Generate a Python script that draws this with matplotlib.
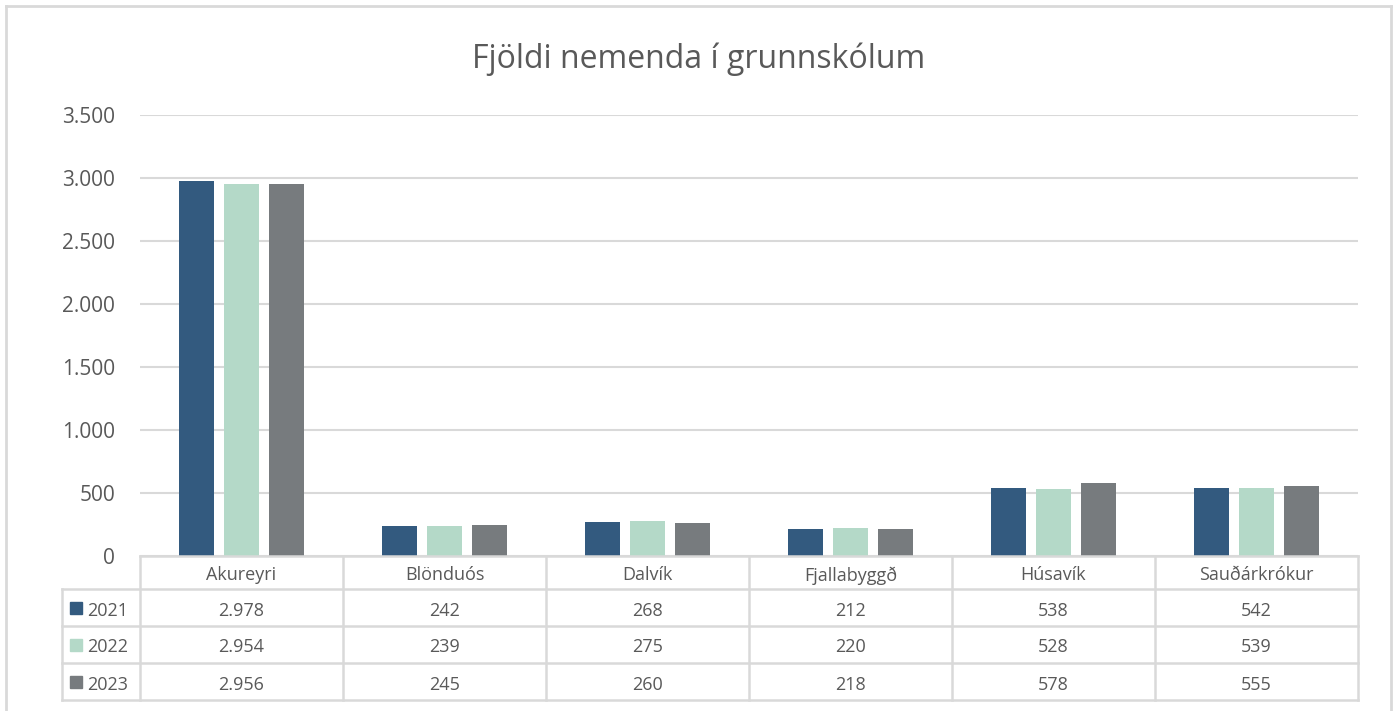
import matplotlib
matplotlib.use("Agg")
import matplotlib.pyplot as plt
import numpy as np
from matplotlib.lines import Line2D
from matplotlib.patches import Rectangle

places = ["Akureyri", "Blönduós", "Dalvík", "Fjallabyggð", "Húsavík", "Sauðárkrókur"]
years = ["2021", "2022", "2023"]
v2021 = [2978, 242, 268, 212, 538, 542]
v2022 = [2954, 239, 275, 220, 528, 539]
v2023 = [2956, 245, 260, 218, 578, 555]
yticks = [0, 500, 1000, 1500, 2000, 2500, 3000, 3500]

colors = ["#335A7F", "#B4D9C8", "#777B7E"]
grid_c = "#D9D9D9"
text_c = "#595959"

plt.rcParams["font.family"] = ["Open Sans", "DejaVu Sans"]

W, H = 1398, 711
fig = plt.figure(figsize=(W / 100, H / 100), dpi=100)


def fx(px):
    return px / W


def fy(py):
    return 1 - py / H


x0, x1 = 140, 1358
y_top, y_bot = 115, 556
ax = fig.add_axes([fx(x0), fy(y_bot), fx(x1) - fx(x0), fy(y_top) - fy(y_bot)])

n = len(places)
x = np.arange(n)
bw = 0.172
step = 0.222
series = [v2021, v2022, v2023]
for i, vals in enumerate(series):
    ax.bar(x + (i - 1) * step, vals, width=bw, color=colors[i], zorder=3)

ax.set_xlim(-0.5, n - 0.5)
ax.set_ylim(0, 3500)
ax.set_yticks(yticks)
ax.set_yticklabels([f"{t:,}".replace(",", ".") for t in yticks], fontsize=15, color=text_c)
for lab in ax.get_yticklabels():
    lab.set_y(lab.get_position()[1])
ax.tick_params(axis="y", length=0, pad=18)
ax.set_xticks([])
ax.grid(axis="y", color=grid_c, linewidth=1.5, zorder=0)
for s in ax.spines.values():
    s.set_visible(False)

fig.text(0.5, fy(59), "Fjöldi nemenda í grunnskólum", ha="center", va="center",
         fontsize=23, color=text_c)

# outer frame
fig.add_artist(Line2D([fx(6), fx(6)], [fy(6), 0], color=grid_c, lw=2))
fig.add_artist(Line2D([fx(6), fx(1391)], [fy(6), fy(6)], color=grid_c, lw=2))
fig.add_artist(Line2D([fx(1391), fx(1391)], [fy(6), 0], color=grid_c, lw=2))

# data table
row_y = [556, 589, 626, 663, 700]
col_w = (x1 - x0) / n
lw = 1.8
tl = dict(color=grid_c, lw=lw)
fig.add_artist(Line2D([fx(x0), fx(x1)], [fy(row_y[0]), fy(row_y[0])], **tl))
for r in row_y[1:]:
    fig.add_artist(Line2D([fx(62), fx(x1)], [fy(r), fy(r)], **tl))
fig.add_artist(Line2D([fx(62), fx(62)], [fy(row_y[1]), fy(row_y[-1])], **tl))
for c in range(n + 1):
    xc = x0 + c * col_w
    fig.add_artist(Line2D([fx(xc), fx(xc)], [fy(row_y[0]), fy(row_y[-1])], **tl))

off = 3
for c, name in enumerate(places):
    xc = x0 + (c + 0.5) * col_w
    fig.text(fx(xc), fy((row_y[0] + row_y[1]) / 2 + off), name, ha="center", va="center",
             fontsize=13, color=text_c)
    for r, vals in enumerate(series):
        yc = (row_y[r + 1] + row_y[r + 2]) / 2 + off
        fig.text(fx(xc), fy(yc), f"{vals[c]:,}".replace(",", "."), ha="center",
                 va="center", fontsize=13, color=text_c)

for r, yr in enumerate(years):
    yc = (row_y[r + 1] + row_y[r + 2]) / 2
    fig.add_artist(Rectangle((fx(70), fy(yc + 6)), fx(12), fy(0) - fy(12),
                             color=colors[r], transform=fig.transFigure))
    fig.text(fx(87), fy(yc + off), yr, ha="left", va="center", fontsize=13, color=text_c)

fig.savefig("out.png", dpi=100, facecolor="white")
